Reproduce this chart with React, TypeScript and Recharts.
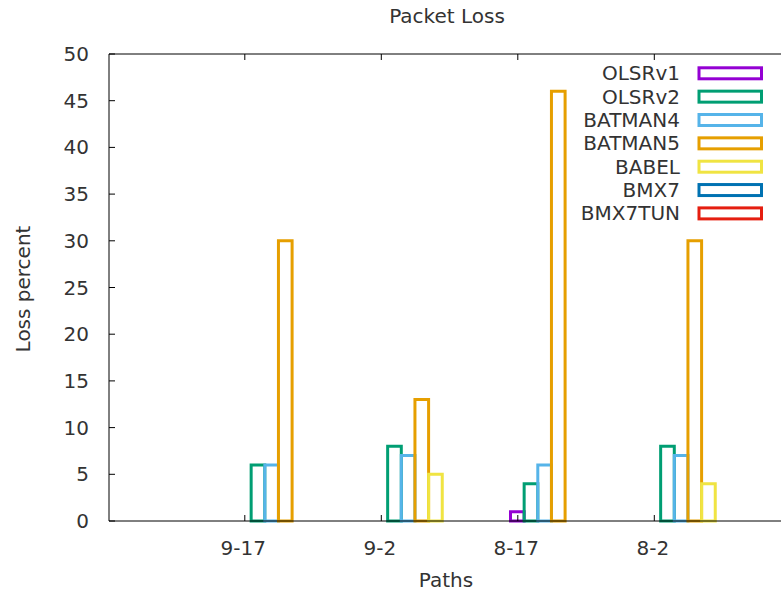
import { Bar, BarChart, Legend, ReferenceLine, XAxis, YAxis } from "recharts";

// Packet loss per path, one value per routing protocol
const paths = ["9-17", "9-2", "8-17", "8-2"];
const olsrv1 = [0, 0, 1, 0];
const olsrv2 = [6, 8, 4, 8];
const batman4 = [6, 7, 6, 7];
const batman5 = [30, 13, 46, 30];
const babel = [0, 5, 0, 4];
const bmx7 = [0, 0, 0, 0];
const bmx7tun = [0, 0, 0, 0];
const yTicks = [0, 5, 10, 15, 20, 25, 30, 35, 40, 45, 50];

const series = [
  { key: "OLSRv1", color: "#9400d3", values: olsrv1 },
  { key: "OLSRv2", color: "#009e73", values: olsrv2 },
  { key: "BATMAN4", color: "#56b4e9", values: batman4 },
  { key: "BATMAN5", color: "#e69f00", values: batman5 },
  { key: "BABEL", color: "#f0e442", values: babel },
  { key: "BMX7", color: "#0072b2", values: bmx7 },
  { key: "BMX7TUN", color: "#e51e10", values: bmx7tun },
];

const data = paths.map((path, i) => {
  const row: Record<string, string | number> = { path };
  series.forEach((s) => {
    row[s.key] = s.values[i];
  });
  return row;
});

const FONT = "'DejaVu Sans', sans-serif";
const FONT_SIZE = 20;
const TEXT = "#333";
const W = 800;
const H = 596;
const PLOT_TOP = 54;
const BAR_SIZE = 13.65;
// gnuplot puts the xtic on the first bar of each cluster
const TICK_SHIFT = -3 * BAR_SIZE;
const TICK_LEN = 6;

function PathTick(props: any) {
  const { x, y, payload } = props;
  const tx = x + TICK_SHIFT;
  return (
    <g>
      <line x1={tx} x2={tx} y1={y} y2={y - TICK_LEN} stroke="#000" />
      <line x1={tx} x2={tx} y1={PLOT_TOP} y2={PLOT_TOP + TICK_LEN} stroke="#000" />
      <text x={tx - 1.5} y={y + 34} textAnchor="middle" fill={TEXT} fontFamily={FONT} fontSize={FONT_SIZE}>
        {payload.value}
      </text>
    </g>
  );
}

function LossTick(props: any) {
  const { x, y, payload } = props;
  return (
    <g>
      <line x1={x} x2={x + TICK_LEN} y1={y} y2={y} stroke="#000" />
      <text x={x - 20} y={y + 7} textAnchor="end" fill={TEXT} fontFamily={FONT} fontSize={FONT_SIZE}>
        {payload.value}
      </text>
    </g>
  );
}

function KeyBox() {
  return (
    <svg width={W} height={240} style={{ display: "block" }}>
      {series.map((s, i) => {
        const cy = 73.3 + i * 23.35;
        return (
          <g key={s.key}>
            <text x={680} y={cy + 7} textAnchor="end" fill={TEXT} fontFamily={FONT} fontSize={FONT_SIZE}>
              {s.key}
            </text>
            <rect x={699} y={cy - 5.5} width={62.5} height={11} fill="none" stroke={s.color} strokeWidth={3} />
          </g>
        );
      })}
    </svg>
  );
}

export default function App() {
  return (
    <div style={{ position: "absolute", left: 0, top: 0, width: 781, height: 596, overflow: "hidden", background: "#fff" }}>
      <BarChart
        width={W}
        height={H}
        data={data}
        margin={{ top: PLOT_TOP, right: 9.5, bottom: 0, left: 0 }}
        barGap={0}
      >
        <XAxis
          dataKey="path"
          height={75}
          padding={{ left: 108.5, right: 27 }}
          axisLine={{ stroke: "#000" }}
          tickLine={false}
          tickSize={0}
          tickMargin={0}
          interval={0}
          tick={(p: any) => <PathTick {...p} />}
        />
        <YAxis
          width={109}
          domain={[0, 50]}
          ticks={yTicks}
          interval={0}
          axisLine={{ stroke: "#000" }}
          tickLine={false}
          tickSize={0}
          tickMargin={0}
          tick={(p: any) => <LossTick {...p} />}
        />
        <ReferenceLine y={50} stroke="#000" />
        {series.map((s) => (
          <Bar
            key={s.key}
            dataKey={s.key}
            fill="none"
            stroke={s.color}
            strokeWidth={3}
            barSize={BAR_SIZE}
            isAnimationActive={false}
          />
        ))}
        <Legend
          layout="vertical"
          align="center"
          verticalAlign="middle"
          wrapperStyle={{ left: 0, top: 0, width: W, height: 240, pointerEvents: "none" }}
          content={() => <KeyBox />}
        />
      </BarChart>
      <svg
        width={781}
        height={596}
        style={{ position: "absolute", left: 0, top: 0, pointerEvents: "none" }}
      >
        <text x={447} y={23} textAnchor="middle" fill={TEXT} fontFamily={FONT} fontSize={FONT_SIZE}>
          Packet Loss
        </text>
        <text x={446} y={587} textAnchor="middle" fill={TEXT} fontFamily={FONT} fontSize={FONT_SIZE}>
          Paths
        </text>
        <text
          transform="translate(30, 289) rotate(-90)"
          textAnchor="middle"
          fill={TEXT}
          fontFamily={FONT}
          fontSize={FONT_SIZE}
        >
          Loss percent
        </text>
      </svg>
    </div>
  );
}
